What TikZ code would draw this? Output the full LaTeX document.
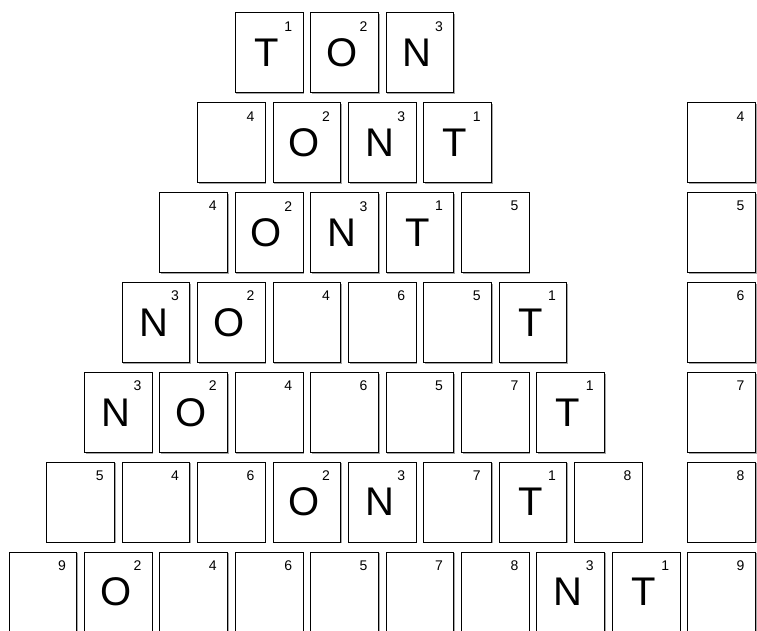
\documentclass[tikz,border=0pt]{standalone}
\usepackage{fontspec}
\setmainfont{Liberation Sans}
\usetikzlibrary{shadows}

\begin{document}
\begin{tikzpicture}[
  x=1pt, y=-1pt,
  tile/.style={rectangle, draw=black, fill=white, line width=0.8pt,
    minimum width=67.7pt, minimum height=80pt, inner sep=0pt,
    drop shadow={shadow xshift=1.2pt, shadow yshift=-1.2pt, fill=gray!70, opacity=1}},
  letter/.style={font=\fontsize{40}{40}\selectfont, inner sep=0pt},
  num/.style={font=\fontsize{14}{14}\selectfont, inner sep=0pt, anchor=north east}
]
  \clip (0,0) rectangle (757,630);
  % pyramid rows: row / first column / letter-number pairs
  \foreach \r/\s/\row in {
      1/3/{T/1,O/2,N/3},
      2/2.5/{/4,O/2,N/3,T/1},
      3/2/{/4,O/2,N/3,T/1,/5},
      4/1.5/{N/3,O/2,/4,/6,/5,T/1},
      5/1/{N/3,O/2,/4,/6,/5,/7,T/1},
      6/0.5/{/5,/4,/6,O/2,N/3,/7,T/1,/8},
      7/0/{/9,O/2,/4,/6,/5,/7,/8,N/3,T/1}} {
    \foreach \l/\n [count=\c from 0] in \row {
      \pgfmathsetmacro\tx{42.85+75.4*(\s+\c)}
      \pgfmathsetmacro\ty{52.7+89.9*(\r-1)}
      \node[tile] (t-\r-\c) at (\tx,\ty) {};
      \node[letter] (l-\r-\c) at ([xshift=-2.5pt]t-\r-\c.center) {\l};
      \node[num] (n-\r-\c) at ([shift={(-11pt,-9pt)}]t-\r-\c.north east) {\n};
    }
  }
  % column on the right
  \foreach \r/\n in {2/4,3/5,4/6,5/7,6/8,7/9} {
    \pgfmathsetmacro\ty{52.7+89.9*(\r-1)}
    \node[tile] (r-\r) at (721.45,\ty) {};
    \node[num] (rn-\r) at ([shift={(-11pt,-9pt)}]r-\r.north east) {\n};
  }
\end{tikzpicture}
\end{document}
